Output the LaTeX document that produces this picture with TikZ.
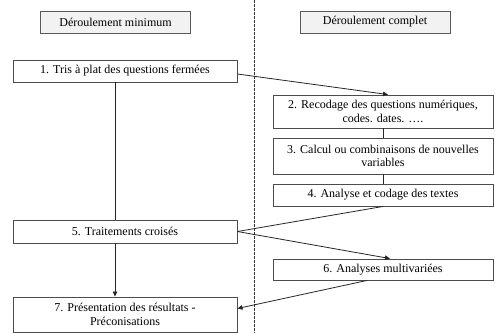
\documentclass[tikz,border=0pt]{standalone}
\usepackage{fontspec}
\setmainfont{Liberation Serif}
\usetikzlibrary{arrows.meta,shadows}
\begin{document}
\begin{tikzpicture}[x=1pt,y=-1pt,
  box/.style={draw=black!70, line width=0.9pt, fill=white, inner sep=1pt, align=center,
    font=\fontsize{12}{13.5}\selectfont, minimum width=#1},
  box/.default=220pt,
  titlebox/.style={draw=black!65, line width=0.9pt, fill=black!5, inner sep=1pt,
    minimum width=150pt, minimum height=22pt, font=\fontsize{12}{13.5}\selectfont,
    drop shadow={shadow xshift=0.8pt, shadow yshift=-0.8pt, fill=black!40}},
  conn/.style={draw=black!85, line width=0.8pt},
  arr/.style={conn, -{Triangle[length=5pt,width=4.5pt]}},
  sep/.style={draw=black!80, line width=0.6pt, dash pattern=on 2.5pt off 1.5pt}]
\useasboundingbox (0,0) rectangle (495,333);
\coordinate (septop) at (254,0);
\coordinate (sepbot) at (254,333);
\draw[sep] (septop) -- (sepbot);
\coordinate (xl) at (115,0);

\node[titlebox] (tl) at (115.5,22) {Déroulement minimum};
\node[titlebox] (tr) at (375,22) {Déroulement complet};

\node[box=224pt, minimum height=22pt] (b1) at (125,71) {1. Tris à plat des questions fermées};
\node[box=224pt, minimum height=23pt] (b5) at (125,231.5) {5. Traitements croisés};
\node[box=224pt, minimum height=35pt] (b7) at (125,314.5) {7. Présentation des résultats -\\Préconisations};

\node[box, minimum height=33pt] (b2) at (383,111.5) {2. Recodage des questions numériques,\\codes. dates. ….};
\node[box, minimum height=36pt] (b3) at (383,156) {3. Calcul ou combinaisons de nouvelles\\variables};
\node[box, minimum height=22pt] (b4) at (383,195) {4. Analyse et codage des textes};
\node[box, minimum height=21pt] (b6) at (383,269.5) {6. Analyses multivariées};

\draw[conn] (b1.south -| xl) -- (b5.north -| xl);
\draw[arr] (b5.south -| xl) -- (b7.north -| xl);
\draw[arr] ([yshift=-3pt]b1.east) -- ([xshift=5pt]b2.north);
\draw[conn] (b2.south) -- (b3.north);
\draw[conn] (b3.south) -- (b4.north);
\draw[conn] (b4.south) -- (b5.east);
\draw[arr] (b5.east) -- ([xshift=7pt]b6.north);
\draw[arr] ([xshift=-16pt]b6.south) -- ([yshift=6pt]b7.east);
\end{tikzpicture}
\end{document}
